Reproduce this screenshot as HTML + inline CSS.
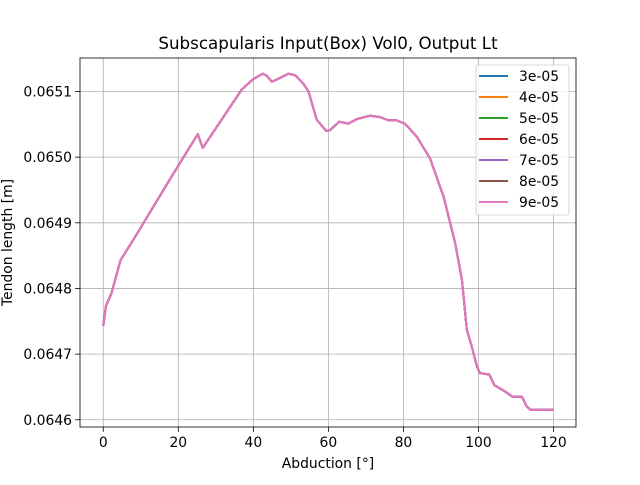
<!DOCTYPE html>
<html><head><meta charset="utf-8"><style>
body{margin:0;background:#fff;}
svg text{font-family:"DejaVu Sans","Liberation Sans",sans-serif;fill:#000;}
</style></head><body>
<svg id="chart" width="640" height="480" xmlns="http://www.w3.org/2000/svg"></svg>
<script>
const xValues=[0,0.7,2.2,4.6,8,18.7,25.2,26.5,32,36.9,40,42.5,43.6,44.9,46.2,49.3,51.1,53.3,54.7,56.9,59.4,60.4,62.9,65.3,67.6,71.1,73.8,76,78.2,80.4,83.6,87.1,90.7,93.8,95.6,96.9,98.2,99.6,100.4,102.9,104.2,107.1,109.1,111.6,112.9,113.9,120];
const yValues=[0.064743,0.064773,0.064793,0.064843,0.064874,0.064975,0.065035,0.065014,0.065061,0.065103,0.065119,0.065127,0.065124,0.065115,0.065118,0.065127,0.065125,0.065112,0.065100,0.065057,0.065040,0.065041,0.065054,0.065051,0.065058,0.065063,0.065061,0.065056,0.065056,0.065051,0.065031,0.064998,0.064940,0.064869,0.064813,0.064737,0.064712,0.064681,0.064671,0.064669,0.064653,0.064643,0.064635,0.064635,0.064620,0.064615,0.064615];
const seriesNames=["3e-05","4e-05","5e-05","6e-05","7e-05","8e-05","9e-05"];
const seriesColors=["#1f77b4","#ff7f0e","#2ca02c","#d62728","#9467bd","#8c564b","#e377c2"];
const xTicks=[0,20,40,60,80,100,120];
const yTicks=[0.0646,0.0647,0.0648,0.0649,0.0650,0.0651];

const L=80,R=576,T=58,B=427;
const xMin=-6.2,xMax=126,yMin=0.064589,yMax=0.065151;
const sx=v=>L+(v-xMin)/(xMax-xMin)*(R-L);
const sy=v=>B-(v-yMin)/(yMax-yMin)*(B-T);
const svg=document.getElementById('chart');
const NS="http://www.w3.org/2000/svg";
function mk(tag,attrs,parent){const e=document.createElementNS(NS,tag);for(const k in attrs)e.setAttribute(k,attrs[k]);(parent||svg).appendChild(e);return e;}

mk('rect',{x:0,y:0,width:640,height:480,fill:'#fff'});
xTicks.forEach(t=>{
  const g=mk('line',{x1:sx(t),x2:sx(t),y1:T,y2:B,stroke:'#b0b0b0','stroke-width':0.8});
  
  
  mk('line',{x1:sx(t),x2:sx(t),y1:B,y2:B+4.9,stroke:'#000','stroke-width':0.8});
  const tx=mk('text',{x:sx(t),y:B+20,'text-anchor':'middle','font-size':13.9});
  tx.textContent=t;
  
  
});
yTicks.forEach(t=>{
  const g=mk('line',{x1:L,x2:R,y1:sy(t),y2:sy(t),stroke:'#b0b0b0','stroke-width':0.8});
  
  
  mk('line',{x1:L-4.9,x2:L,y1:sy(t),y2:sy(t),stroke:'#000','stroke-width':0.8});
  const tx=mk('text',{x:L-8,y:sy(t)+5,'text-anchor':'end','font-size':13.9});
  tx.textContent=t.toFixed(4);
  
  
});
seriesNames.forEach((n,i)=>{
  const d=xValues.map((x,j)=>(j?'L':'M')+sx(x).toFixed(2)+','+sy(yValues[j]).toFixed(2)).join(' ');
  const p=mk('path',{d:d,fill:'none',stroke:seriesColors[i],'stroke-width':2,'stroke-linejoin':'round'});
  
  
});
const frame=mk('rect',{x:L,y:T,width:R-L,height:B-T,fill:'none',stroke:'#000','stroke-width':0.8});



const title=mk('text',{x:(L+R)/2,y:49,'text-anchor':'middle','font-size':16.7});
title.textContent='Subscapularis Input(Box) Vol0, Output Lt';


const xl=mk('text',{x:(L+R)/2,y:468,'text-anchor':'middle','font-size':13.9});
xl.textContent='Abduction [°]';


const yl=mk('text',{x:0,y:0,'text-anchor':'middle','font-size':13.9,transform:'translate(12,'+((T+B)/2)+') rotate(-90)'});
yl.textContent='Tendon length [m]';



const lg=mk('g',{});


mk('rect',{x:476,y:65,width:93,height:150,rx:2,fill:'#fff','fill-opacity':0.8,stroke:'#ccc','stroke-width':0.8},lg);
seriesNames.forEach((n,i)=>{
  const y=76+i*21;
  const e=mk('g',{},lg);
  
  
  mk('line',{x1:479,x2:508,y1:y,y2:y,stroke:seriesColors[i],'stroke-width':2},e);
  const t=mk('text',{x:519,y:y+5,'font-size':13.9},e);
  t.textContent=n;
});
</script>
</body></html>
